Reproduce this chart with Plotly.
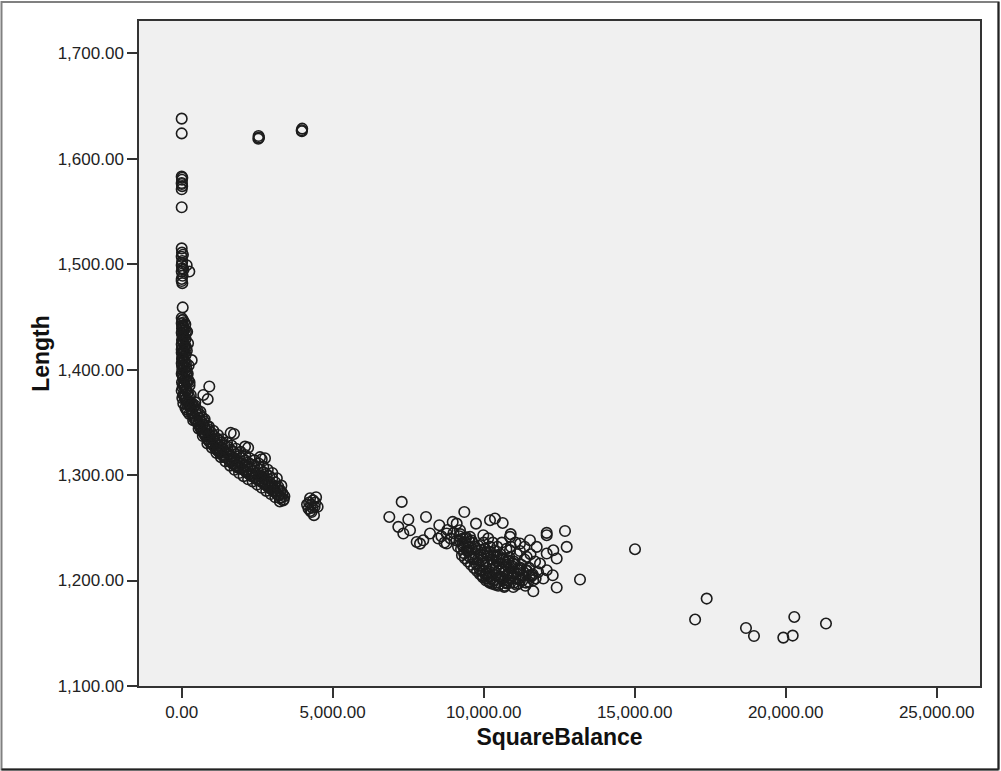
import plotly.graph_objects as go

# --- Data -----------------------------------------------------------------
# Near-zero SquareBalance column (top part)
col_top_x = [0, 0, 0, 10, 0, 15, 0, 20, 5, 0,
             0, 10, 0, 20, 0, 15, 0, 30, 252, 165, 0, 20, 0, 40, 10, 60, 33]
col_top_y = [1638, 1624, 1583, 1580, 1577, 1574, 1571, 1582, 1576, 1554,
             1515, 1511, 1507, 1503, 1499, 1496, 1493, 1489, 1493, 1499, 1486, 1482, 1484,
             1509, 1501, 1495, 1459]

# Dense column just above the bend
col_dense_x = [20, 0, 40, 10, 60, 0, 30, 80, 10, 50, 0, 100, 20, 70, 0, 130, 40, 10, 90, 330,
               0, 60, 150, 20, 110, 0, 180, 50, 220, 10, 90, 260, 30, 150, 0, 200, 60, 300,
               20, 120, 53, 250, 180, 350]
col_dense_y = [1447, 1444, 1442, 1439, 1437, 1435, 1432, 1430, 1428, 1426, 1424, 1422, 1420, 1418,
               1416, 1414, 1412, 1410, 1408, 1409, 1406, 1404, 1402, 1400, 1398, 1396, 1394, 1392,
               1390, 1388, 1386, 1385, 1383, 1381, 1380, 1378, 1376, 1376, 1373, 1372, 1368, 1370,
               1367, 1368]

col_fill_x = [0, 40, 80, 120, 20, 60, 100, 140, 10, 50, 90, 130, 30, 70, 110, 150, 0, 40, 80, 120,
              20, 60, 100, 140, 10, 50, 90, 130, 170, 30, 70, 110, 150, 190, 40, 80, 120, 160,
              200, 60, 100, 140, 180, 220, 260, 120, 160, 300, 200, 250, 340,
              180, 210, 170, 230, 200, 260, 240, 280]
col_fill_y = [1449, 1447, 1445, 1443, 1441, 1440, 1438, 1436, 1434, 1432, 1431, 1429, 1427, 1425,
              1423, 1421, 1419, 1417, 1416, 1414, 1412, 1410, 1408, 1406, 1404, 1403, 1401, 1399,
              1397, 1395, 1393, 1391, 1389, 1388, 1386, 1384, 1382, 1380, 1378, 1376, 1374, 1372,
              1370, 1368, 1366, 1364, 1362, 1363, 1360, 1358, 1358,
              1436, 1425, 1418, 1404, 1396, 1388, 1375, 1366]

# Falling curve between roughly 300 and 3,400
curve_x = [330, 360, 400, 420, 460, 480, 520, 540, 580, 600, 640, 660, 700, 720, 760, 780, 820, 850,
           880, 910, 950, 980,
           1020, 1050, 1090, 1120, 1160, 1190, 1230, 1260, 1300, 1340, 1380, 1420, 1460, 1500,
           1550, 1590, 1640, 1680, 1730, 1770, 1820, 1860, 1910, 1950, 2000, 2040,
           2090, 2130, 2180, 2220, 2270, 2310, 2360, 2400, 2450, 2490, 2540, 2580,
           2630, 2670, 2720, 2760, 2810, 2850, 2900, 2940, 2990, 3030,
           3080, 3120, 3170, 3210, 3260, 3300, 3340, 3380]
curve_y = [1366, 1359, 1365, 1356, 1361, 1352, 1357, 1349, 1354, 1346, 1351, 1343, 1348, 1340, 1345,
           1337, 1342, 1334, 1339, 1332, 1337, 1330,
           1334, 1328, 1332, 1325, 1330, 1323, 1328, 1321, 1326, 1319, 1324, 1317, 1322, 1316,
           1320, 1313, 1318, 1311, 1316, 1309, 1314, 1307, 1312, 1306, 1311, 1305,
           1309, 1303, 1308, 1301, 1306, 1299, 1304, 1298, 1302, 1296, 1300, 1295,
           1299, 1293, 1297, 1291, 1295, 1289, 1293, 1287, 1291, 1285,
           1289, 1283, 1287, 1281, 1285, 1279, 1282, 1277]

curve_fill_x = [410, 440, 470, 510, 560, 590, 630, 670, 710, 740, 790, 830, 870, 900, 940, 990,
                1030, 1070, 1110, 1150, 1200, 1240, 1290, 1330, 1380, 1420, 1470, 1520, 1570,
                1620, 1660, 1710, 1760, 1800, 1850, 1900, 1950, 2000, 2050, 2100, 2150, 2200,
                2260, 2300, 2350, 2400, 2450, 2500, 2550, 2600, 2650, 2700, 2750, 2800, 2850,
                2900, 2950, 3000, 3060, 3100, 3150, 3200, 3250, 3280, 3330, 3360, 3400]
curve_fill_y = [1354, 1366, 1351, 1362, 1348, 1358, 1344, 1355, 1341, 1351, 1338, 1347, 1334, 1343,
                1331, 1340, 1329, 1337, 1326, 1335, 1324, 1333, 1322, 1331, 1319, 1328, 1317,
                1327, 1315, 1324, 1313, 1322, 1311, 1320, 1309, 1318, 1307, 1316, 1305, 1314,
                1303, 1312, 1301, 1310, 1300, 1309, 1298, 1307, 1296, 1305, 1294, 1303, 1292,
                1301, 1290, 1299, 1288, 1297, 1286, 1293, 1282, 1289, 1278, 1285, 1283, 1276,
                1280]

# Outer edges of the curve band
curve_edge_x = [450, 620, 760, 900, 1050, 1200, 1350, 1500, 1650, 1800, 1950, 2100, 2250, 2400,
                2550, 2700, 2850, 3000, 3150, 3300,
                380, 560, 700, 850, 1000, 1150, 1300, 1450, 1600, 1750, 1900, 2050, 2200, 2350,
                2500, 2650, 2800, 2950, 3100, 3250]
curve_edge_y = [1369, 1360, 1353, 1346, 1342, 1338, 1334, 1331, 1328, 1325, 1322, 1319, 1316,
                1314, 1311, 1308, 1305, 1302, 1297, 1290,
                1352, 1344, 1337, 1330, 1326, 1321, 1317, 1313, 1309, 1305, 1302, 1299, 1296,
                1294, 1291, 1288, 1285, 1282, 1279, 1275]

# Scattered points beside the curve
curve_side_x = [914, 861, 715, 1622, 1732, 2593, 2758, 1821, 2096, 2200, 2650]
curve_side_y = [1384, 1372, 1376, 1340, 1339, 1317, 1316, 1308, 1327, 1326, 1315]

# Small group around 4,300
group_4k_x = [4200, 4300, 4400, 4250, 4350, 4450, 4150, 4380, 4280, 4420, 4500, 4220, 4330, 4260]
group_4k_y = [1268, 1265, 1270, 1278, 1276, 1279, 1272, 1262, 1272, 1274, 1270, 1274, 1269, 1266]

# Two high outliers (repeated cases)
high_x = [2537, 2560, 2545, 3973, 3990, 3980]
high_y = [1619, 1620, 1621.5, 1627, 1628.5, 1626]

# Main cluster between 6,900 and 13,200
cluster_x = [7285, 6875, 7173, 7504, 7338, 7560, 7781, 7891, 8090, 8530, 8974, 9358, 9745, 10209,
             10374, 10629, 10894, 12086, 12692, 12748, 12417, 13189, 12417, 11643, 12285, 11974,
             8222, 8000, 8775, 9215, 9546, 9987, 10209, 10430, 9877, 10318, 10762, 11202, 10980,
             10540, 11424, 11864, 12086, 11755, 11533, 11202, 10871, 9325, 8775, 8497, 9656, 9987,
             10099, 10980, 11424, 10649, 11202, 12086, 12305, 11643, 10871, 12086, 9106,
             9900, 10000, 10050, 10100, 10150, 10200, 10250, 10300, 10350, 10400, 10450, 10500,
             10550, 10600, 10650, 10700, 10750, 10800, 10850, 10900, 10950, 11000, 11050, 11100,
             11150, 11250, 11300, 11350, 11400, 11500, 11550, 11600, 11700, 11800, 9700, 9600,
             9500, 9400, 9300, 9200, 9100, 9000, 8900, 8800, 8700, 8600, 9800, 10000, 10150,
             10300, 10450, 10600, 10750, 10900, 11050, 11200, 11350, 10200, 10500, 10700, 11000,
             11150, 9950, 10100]
cluster_y = [1274.6, 1260.3, 1250.9, 1257.9, 1244.6, 1247.7, 1236.6, 1235, 1260.3, 1252.5, 1255.6,
             1265, 1254, 1257.2, 1258.8, 1254.6, 1244, 1245.2, 1247, 1231.9, 1220.9, 1201, 1193.4,
             1189.8, 1205, 1201.9,
             1244.6, 1238.2, 1244.6, 1247.7, 1241.4, 1243, 1231.9, 1222.4, 1209.8, 1200.3, 1197.2,
             1200.3, 1193.9, 1203.4, 1209.8, 1216.1, 1225.6, 1231.9, 1238.2, 1235.1, 1228.7,
             1231.9, 1235.1, 1239.8, 1222.4, 1216.1, 1206.6, 1216.1, 1222.4, 1213, 1209.8, 1209.8,
             1228.7, 1200.3, 1241.4, 1243, 1254,
             1225, 1218, 1230, 1212, 1224, 1208, 1220, 1215, 1228, 1205, 1218, 1210,
             1225, 1202, 1220, 1208, 1215, 1200, 1222, 1212, 1205, 1218, 1202, 1225,
             1210, 1215, 1205, 1220, 1198, 1212, 1225, 1205, 1218, 1208, 1232, 1238,
             1228, 1240, 1236, 1242, 1238, 1245, 1240, 1248, 1236, 1242, 1220, 1236, 1240,
             1236, 1232, 1236, 1230, 1232, 1236, 1228, 1232, 1198, 1196, 1195, 1198,
             1197, 1205, 1202]

# Densest part of the cluster
core_x = [9200, 9250, 9300, 9350, 9400, 9450, 9500, 9550, 9600, 9650, 9700, 9750, 9800, 9850,
          9900, 9950, 10000, 10050, 10100, 10150, 10200, 10250, 10300, 10350, 10400, 10450,
          10500, 10550, 10600, 10650, 10700, 10750, 10800, 10850,
          9220, 9320, 9420, 9520, 9620, 9720, 9820, 9920, 10020, 10120, 10220, 10320, 10420,
          10520, 10620, 10720, 10820, 10920, 11020, 11120, 11220, 11320, 11420, 11520, 11620,
          11720,
          9150, 9280, 9380, 9480, 9580, 9680, 9780, 9880, 9980, 10080, 10180, 10280, 10380,
          10480, 10580, 10680, 10780, 10880, 10980, 11080, 11180, 11280, 11380, 11480, 11580]
core_y = [1238, 1230, 1234, 1226, 1236, 1228, 1232, 1222, 1230, 1220, 1226, 1216, 1228, 1214,
          1222, 1210, 1224, 1206, 1218, 1204, 1214, 1202, 1220, 1200, 1212, 1198, 1216, 1204,
          1210, 1200, 1208, 1198, 1206, 1202,
          1244, 1240, 1241, 1237, 1236, 1232, 1233, 1229, 1230, 1226, 1227, 1223, 1224, 1220,
          1221, 1217, 1218, 1214, 1215, 1211, 1212, 1208, 1209, 1205, 1206, 1202,
          1232, 1224, 1221, 1218, 1215, 1212, 1209, 1206, 1203, 1200, 1199, 1197, 1196, 1195,
          1203, 1194, 1205, 1198, 1208, 1196, 1202, 1200, 1195, 1199, 1204]

# Right-hand tail
tail_x = [15010, 17000, 17384, 18685, 18950, 19921, 20232, 20285, 21334]
tail_y = [1229.7, 1163, 1182.9, 1155, 1147.4, 1145.9, 1147.8, 1165.5, 1159.2]

square_balance = (col_top_x + col_dense_x + col_fill_x + curve_x + curve_fill_x + curve_edge_x
                  + curve_side_x + group_4k_x + high_x + cluster_x + core_x + tail_x)
length = (col_top_y + col_dense_y + col_fill_y + curve_y + curve_fill_y + curve_edge_y
          + curve_side_y + group_4k_y + high_y + cluster_y + core_y + tail_y)

x_ticks = [0, 5000, 10000, 15000, 20000, 25000]
y_ticks = [1100, 1200, 1300, 1400, 1500, 1600, 1700]

# --- Figure ---------------------------------------------------------------
FONT = "Liberation Sans, Arial, sans-serif"

fig = go.Figure(
    go.Scatter(
        x=square_balance,
        y=length,
        mode="markers",
        marker=dict(
            symbol="circle-open",
            size=10.5,
            color="#1c1c1c",
            line=dict(width=1.6, color="#1c1c1c"),
        ),
        hoverinfo="x+y",
    )
)

axis_common = dict(
    showgrid=False,
    zeroline=False,
    showline=True,
    linecolor="#333333",
    linewidth=1.5,
    mirror=True,
    ticks="outside",
    ticklen=10,
    tickwidth=1.5,
    tickcolor="#333333",
    tickformat=",.2f",
    tickfont=dict(family=FONT, size=17, color="#222222"),
)

fig.update_xaxes(
    range=[-1414, 26434],
    tickvals=x_ticks,
    title=dict(text="<b>SquareBalance</b>", font=dict(family=FONT, size=23, color="#111111"),
               standoff=8),
    **axis_common,
)
fig.update_yaxes(
    range=[1100, 1730.6],
    tickvals=y_ticks,
    title=dict(text="<b>Length</b>", font=dict(family=FONT, size=23, color="#111111"),
               standoff=2),
    **axis_common,
)

# Outer frame around the whole chart (paper coordinates of the plot box)
L, R, T, B = 139, 21, 21, 85
W, H = 1001, 771
pw, ph = W - L - R, H - T - B


def px_to_paper_x(px):
    return (px - L) / pw


def px_to_paper_y(py):
    return (H - B - py) / ph


x_left, x_right = px_to_paper_x(1.5), px_to_paper_x(998.5)
y_top, y_bottom = px_to_paper_y(2), px_to_paper_y(769.5)

shapes = [
    dict(type="rect", xref="paper", yref="paper", x0=x_left, x1=x_right, y0=y_bottom, y1=y_top,
         line=dict(color="#808080", width=2), fillcolor="rgba(0,0,0,0)", layer="below"),
    dict(type="line", xref="paper", yref="paper", x0=x_right, x1=x_right, y0=y_bottom, y1=y_top,
         line=dict(color="#222222", width=2)),
    dict(type="line", xref="paper", yref="paper", x0=x_left, x1=x_right, y0=y_bottom, y1=y_bottom,
         line=dict(color="#222222", width=2)),
]

fig.update_layout(
    width=W,
    height=H,
    autosize=False,
    margin=dict(l=L, r=R, t=T, b=B),
    paper_bgcolor="white",
    plot_bgcolor="#f0f0f0",
    showlegend=False,
    shapes=shapes,
    font=dict(family=FONT),
)

fig.write_html("out.html")
